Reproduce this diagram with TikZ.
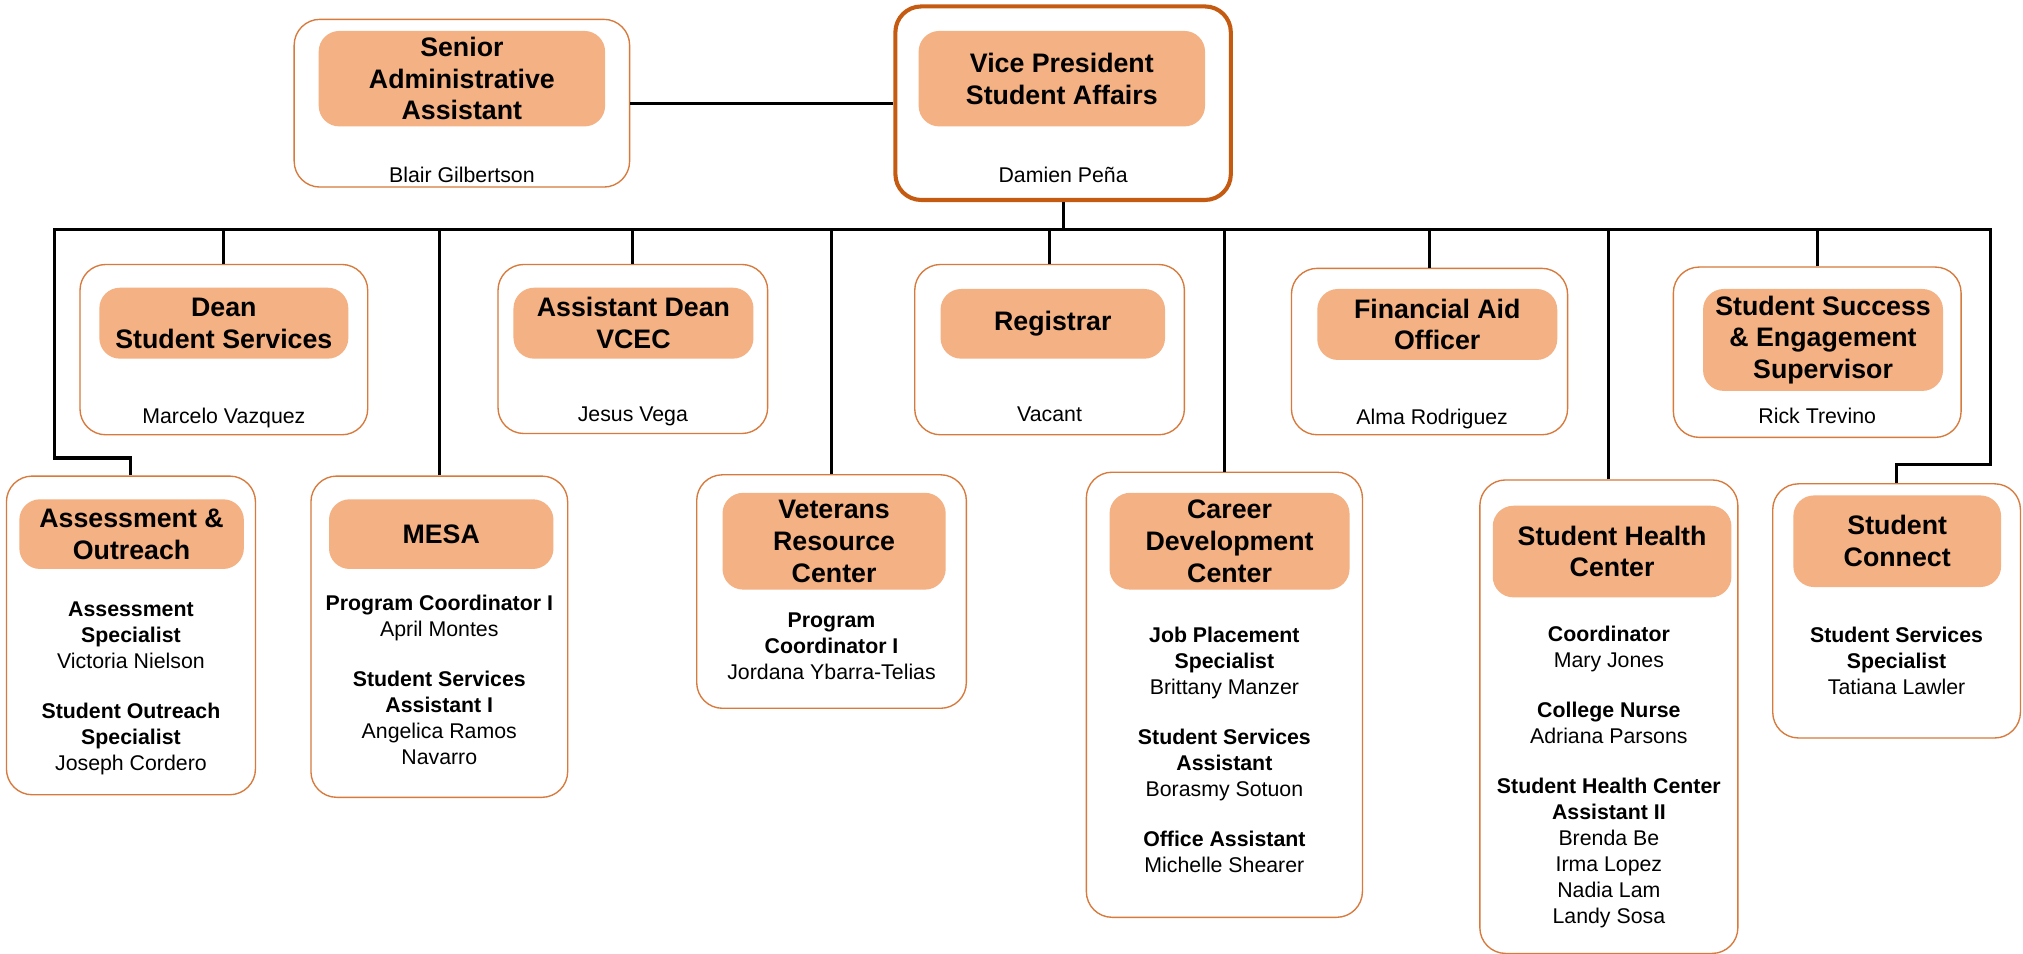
\documentclass[tikz,border=0pt]{standalone}
\usepackage{fontspec}
\setmainfont{Liberation Sans}
\usetikzlibrary{fit}
\definecolor{boxline}{HTML}{D77A3C}
\definecolor{vpline}{HTML}{C55A11}
\definecolor{headfill}{HTML}{F4B183}
\begin{document}
\begin{tikzpicture}[x=0.02cm, y=-0.02cm,
  unitbox/.style={draw=boxline, line width=0.6pt, rounded corners=0.4cm, fill=white, inner sep=0pt},
  vpbox/.style={unitbox, draw=vpline, line width=1.8pt},
  headbox/.style={fill=headfill, rounded corners=0.32cm, inner sep=0pt},
  headtext/.style={font=\bfseries\fontsize{11.8}{14}\selectfont, align=center, inner sep=0pt},
  bodytext/.style={font=\fontsize{9.4}{11.4}\selectfont, align=center, inner sep=0pt, anchor=north},
  conn/.style={draw=black, line width=1.35pt}
]
\useasboundingbox[fill=white] (0,0) rectangle (1568,739);

% ---- top row
\node[unitbox, fit={(228,15) (488,145)}] (sen) {};
\node[headbox, fit={(247,24) (469,98)}] (senH) {};
\node[headtext] (senT) at (senH.center) {Senior\\Administrative\\Assistant};
\node[bodytext] (senN) at (358,129) {Blair Gilbertson};

\node[vpbox, fit={(694,5) (954,155)}] (vp) {};
\node[headbox, fit={(712,24) (934,98)}] (vpH) {};
\node[headtext] (vpT) at (vpH.center) {Vice President\\Student Affairs};
\node[bodytext] (vpN) at (824,129) {Damien Peña};

% ---- middle row
\node[unitbox, fit={(62,205) (285,337)}] (dean) {};
\node[headbox, fit={(77,223) (270,278)}] (deanH) {};
\node[headtext] (deanT) at (deanH.center) {Dean\\Student Services};
\node[bodytext] (deanN) at (173.5,316) {Marcelo Vazquez};

\node[unitbox, fit={(386,205) (595,336)}] (adean) {};
\node[headbox, fit={(398,223) (584,278)}] (adeanH) {};
\node[headtext] (adeanT) at (adeanH.center) {Assistant Dean\\VCEC};
\node[bodytext] (adeanN) at (490.5,315) {Jesus Vega};

\node[unitbox, fit={(709,205) (918,337)}] (reg) {};
\node[headbox, fit={(729,224) (903,278)}] (regH) {};
\node[headtext] (regT) at (regH.center) {Registrar};
\node[bodytext] (regN) at (813.5,315) {Vacant};

\node[unitbox, fit={(1001,208) (1215,337)}] (fin) {};
\node[headbox, fit={(1021,224) (1207,279)}] (finH) {};
\node[headtext] (finT) at (finH.center) {Financial Aid\\Officer};
\node[bodytext] (finN) at (1110,317) {Alma Rodriguez};

\node[unitbox, fit={(1297,207) (1520,339)}] (ssup) {};
\node[headbox, fit={(1320,224) (1506,303)}] (ssupH) {};
\node[headtext] (ssupT) at (ssupH.center) {Student Success\\\& Engagement\\Supervisor};
\node[bodytext] (ssupN) at (1408.5,316) {Rick Trevino};

% ---- bottom row
\node[unitbox, fit={(5,369) (198,616)}] (ao) {};
\node[headbox, fit={(15,387) (189,441)}] (aoH) {};
\node[headtext] (aoT) at (aoH.center) {Assessment \&\\Outreach};
\node[bodytext] (aoB) at (101.5,466) {\textbf{Assessment}\\\textbf{Specialist}\\Victoria Nielson\\[10.8pt]\textbf{Student Outreach}\\\textbf{Specialist}\\Joseph Cordero};

\node[unitbox, fit={(241,369) (440,618)}] (mesa) {};
\node[headbox, fit={(255,387) (429,441)}] (mesaH) {};
\node[headtext] (mesaT) at (mesaH.center) {MESA};
\node[bodytext] (mesaB) at (340.5,461) {\textbf{Program Coordinator I}\\April Montes\\[10.8pt]\textbf{Student Services}\\\textbf{Assistant I}\\Angelica Ramos\\Navarro};

\node[unitbox, fit={(540,368) (749,549)}] (vet) {};
\node[headbox, fit={(560,382) (733,457)}] (vetH) {};
\node[headtext] (vetT) at (vetH.center) {Veterans\\Resource\\Center};
\node[bodytext] (vetB) at (644.5,475) {\textbf{Program}\\\textbf{Coordinator I}\\Jordana Ybarra-Telias};

\node[unitbox, fit={(842,366) (1056,711)}] (car) {};
\node[headbox, fit={(860,382) (1046,457)}] (carH) {};
\node[headtext] (carT) at (carH.center) {Career\\Development\\Center};
\node[bodytext] (carB) at (949,486) {\textbf{Job Placement}\\\textbf{Specialist}\\Brittany Manzer\\[10.8pt]\textbf{Student Services}\\\textbf{Assistant}\\Borasmy Sotuon\\[10.8pt]\textbf{Office Assistant}\\Michelle Shearer};

\node[unitbox, fit={(1147,372) (1347,739)}] (shc) {};
\node[headbox, fit={(1157,392) (1342,463)}] (shcH) {};
\node[headtext] (shcT) at (shcH.center) {Student Health\\Center};
\node[bodytext] (shcB) at (1247,485) {\textbf{Coordinator}\\Mary Jones\\[10.8pt]\textbf{College Nurse}\\Adriana Parsons\\[10.8pt]\textbf{Student Health Center}\\\textbf{Assistant II}\\Brenda Be\\Irma Lopez\\Nadia Lam\\Landy Sosa};

\node[unitbox, fit={(1374,375) (1566,572)}] (sc) {};
\node[headbox, fit={(1390,384) (1551,455)}] (scH) {};
\node[headtext] (scT) at (scH.center) {Student\\Connect};
\node[bodytext] (scB) at (1470,486) {\textbf{Student Services}\\\textbf{Specialist}\\Tatiana Lawler};

% ---- connectors
\coordinate (busL) at (42,178);
\coordinate (busR) at (1543,178);
\coordinate (aoK) at (42,355);
\coordinate (scK) at (1543,360);
\draw[conn] (sen.east) -- (vp.west);
\draw[conn] (vp.south) -- (vp.south |- busL);
\draw[conn] (ao.north) |- (aoK) -- (busL) -- (busR) -- (scK) -| (sc.north);
\foreach \n in {dean,mesa,adean,vet,reg,car,fin,shc,ssup}
  \draw[conn] (\n.north) -- (\n.north |- busL);
\end{tikzpicture}
\end{document}
